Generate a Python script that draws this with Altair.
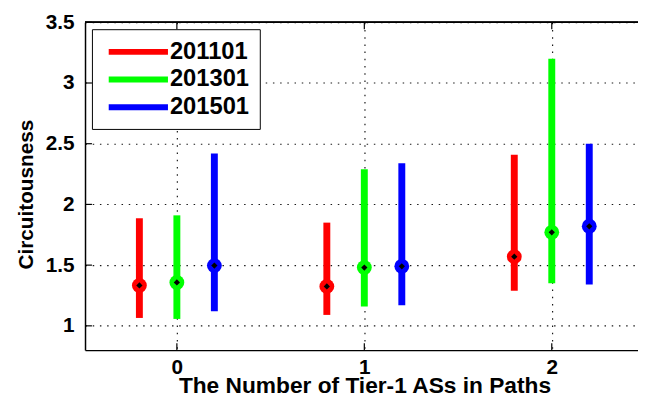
import altair as alt
import pandas as pd

# ---- data ----
groups = [0, 1, 2]
series = ["201101", "201301", "201501"]
colors = ["#FF0000", "#00FF00", "#0000FF"]

low_201101 = [1.065, 1.09, 1.29]
med_201101 = [1.333, 1.325, 1.57]
high_201101 = [1.886, 1.85, 2.41]

low_201301 = [1.057, 1.16, 1.35]
med_201301 = [1.357, 1.48, 1.77]
high_201301 = [1.91, 2.29, 3.2]

low_201501 = [1.12, 1.17, 1.34]
med_201501 = [1.496, 1.49, 1.82]
high_201501 = [2.42, 2.34, 2.5]

x_ticks = [0, 1, 2]
y_ticks = [1, 1.5, 2, 2.5, 3, 3.5]

lows = [low_201101, low_201301, low_201501]
meds = [med_201101, med_201301, med_201501]
highs = [high_201101, high_201301, high_201501]

rows = []
for si, name in enumerate(series):
    for gi, g in enumerate(groups):
        rows.append({"series": name, "idx": si, "group": g,
                     "low": lows[si][gi], "med": meds[si][gi], "high": highs[si][gi]})
df = pd.DataFrame(rows)

FONT = "Liberation Sans"
W, H = 560, 332
xdom = [-0.49, 2.46]
ydom = [0.8, 3.5]

xscale = alt.Scale(domain=xdom, nice=False, zero=False)
yscale = alt.Scale(domain=ydom, nice=False, zero=False)
cscale = alt.Scale(domain=series, range=colors)

base = alt.Chart(df).transform_calculate(xpos="datum.group + (datum.idx - 1) * 0.2")

x_axis = alt.Axis(values=x_ticks, format="~g", grid=True, ticks=False, labelPadding=7,
                  labelFontSize=21, labelFont=FONT, labelFontWeight="bold",
                  title="The Number of Tier-1 ASs in Paths", titleFontSize=23,
                  titleX=283, titleY=43, titleBaseline="alphabetic", titleAlign="center",
                  titleAnchor="middle")
y_axis = alt.Axis(values=y_ticks, format="~g", grid=True, ticks=False, labelPadding=11,
                  labelFontSize=21, labelFont=FONT, labelFontWeight="bold",
                  title="Circuitousness", titleFontSize=21, titleAngle=-90, titleX=-53,
                  titleY=174, titleBaseline="alphabetic", titleAlign="center")

rules = base.mark_rule(strokeWidth=7).encode(
    x=alt.X("xpos:Q", scale=xscale, axis=x_axis),
    y=alt.Y("low:Q", scale=yscale, axis=y_axis),
    y2="high:Q",
    color=alt.Color("series:N", scale=cscale,
                    legend=alt.Legend(title=None, orient="none", legendX=7, legendY=7,
                                      symbolType="M-3,0H3", symbolSize=400,
                                      symbolStrokeWidth=6, symbolOffset=24,
                                      labelFontSize=24,
                                      labelFont=FONT, labelFontWeight="bold",
                                      labelColor="#000", rowPadding=3,
                                      labelOffset=19, padding=10,
                                      strokeColor="#000", fillColor="#fff",
                                      symbolOpacity=1)),
)

circles = base.mark_point(shape="circle", filled=True, size=225, opacity=1).encode(
    x=alt.X("xpos:Q", scale=xscale),
    y=alt.Y("med:Q", scale=yscale),
    color=alt.Color("series:N", scale=cscale, legend=None),
)

diamonds = base.mark_point(shape="diamond", filled=True, size=40, color="#000",
                           opacity=1).encode(
    x=alt.X("xpos:Q", scale=xscale),
    y=alt.Y("med:Q", scale=yscale),
)

xt = pd.DataFrame({"t": x_ticks})
yt = pd.DataFrame({"t": y_ticks})

top_border = alt.Chart(xt).mark_rule(color="#000", strokeWidth=1.5).encode(
    x=alt.value(0), x2=alt.value(W), y=alt.value(0),
)
top_ticks = alt.Chart(xt).mark_rule(color="#000", strokeWidth=1.2).encode(
    x=alt.X("t:Q", scale=xscale),
    y=alt.value(0), y2=alt.value(7),
)
bottom_ticks = alt.Chart(xt).mark_rule(color="#000", strokeWidth=1.2).encode(
    x=alt.X("t:Q", scale=xscale),
    y=alt.value(H), y2=alt.value(H - 7),
)
left_ticks = alt.Chart(yt).mark_rule(color="#000", strokeWidth=1.2).encode(
    y=alt.Y("t:Q", scale=yscale),
    x=alt.value(0), x2=alt.value(7),
)

chart = alt.layer(rules, circles, diamonds, top_border, top_ticks, bottom_ticks,
                  left_ticks).properties(
    width=W, height=H,
    autosize=alt.AutoSizeParams(type="none"),
    padding={"left": 78, "top": 12, "right": 0, "bottom": 45},
    background="#ffffff",
).configure_view(stroke=None).configure_axis(
    labelFont=FONT, labelFontSize=21, labelFontWeight="bold", labelColor="#000",
    titleFont=FONT, titleFontSize=21, titleFontWeight="bold", titleColor="#000",
    domainColor="#000", domainWidth=1.5,
    gridColor="#000", gridDash=[1.5, 5.8], gridWidth=1.2, gridOpacity=0.9,
)

chart.save("out.html", embed_options={"renderer": "svg", "actions": False})
